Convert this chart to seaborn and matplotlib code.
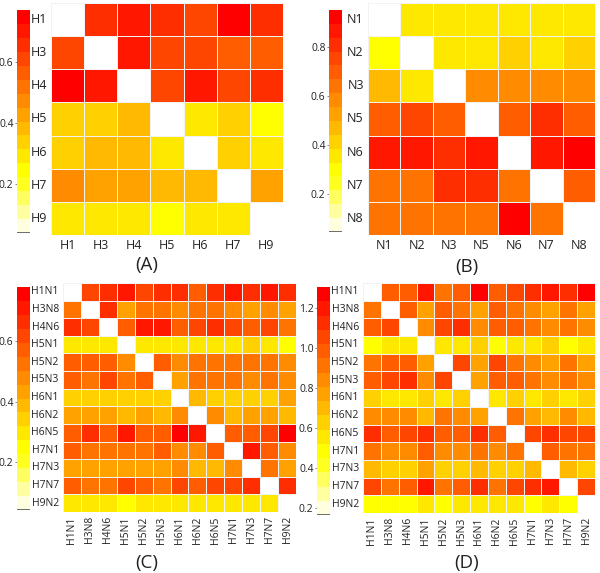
import numpy as np, pandas as pd
import matplotlib as mpl; mpl.use("Agg")
import matplotlib.pyplot as plt
from matplotlib.colors import ListedColormap
import seaborn as sns

nan = np.nan
H_LAB = ["H1", "H3", "H4", "H5", "H6", "H7", "H9"]
N_LAB = ["N1", "N2", "N3", "N5", "N6", "N7", "N8"]
HN_LAB = ["H1N1", "H3N8", "H4N6", "H5N1", "H5N2", "H5N3", "H6N1",
          "H6N2", "H6N5", "H7N1", "H7N3", "H7N7", "H9N2"]

# (A) HA subtypes
A_VALS = [
    [nan, 0.66, 0.70, 0.66, 0.61, 0.75, 0.66],
    [0.61, nan, 0.70, 0.62, 0.61, 0.56, 0.56],
    [0.75, 0.70, nan, 0.62, 0.70, 0.61, 0.66],
    [0.34, 0.34, 0.36, nan, 0.31, 0.34, 0.25],
    [0.34, 0.37, 0.37, 0.29, nan, 0.33, 0.30],
    [0.47, 0.43, 0.42, 0.38, 0.37, nan, 0.42],
    [0.29, 0.29, 0.29, 0.25, 0.29, 0.30, nan],
]
# (B) NA subtypes
B_VALS = [
    [nan, 0.36, 0.36, 0.37, 0.36, 0.36, 0.36],
    [0.30, nan, 0.36, 0.37, 0.40, 0.36, 0.41],
    [0.47, 0.38, nan, 0.59, 0.58, 0.59, 0.58],
    [0.70, 0.75, 0.70, nan, 0.69, 0.81, 0.68],
    [0.87, 0.86, 0.81, 0.87, nan, 0.86, 0.92],
    [0.66, 0.65, 0.80, 0.81, 0.65, nan, 0.69],
    [0.64, 0.65, 0.62, 0.65, 0.92, 0.65, nan],
]
# (C) HxNy subtypes
C_VALS = [
    [nan, 0.62, 0.66, 0.71, 0.62, 0.66, 0.66, 0.57, 0.66, 0.71, 0.66, 0.70, 0.66],
    [0.53, nan, 0.66, 0.43, 0.53, 0.52, 0.48, 0.53, 0.52, 0.48, 0.43, 0.47, 0.42],
    [0.66, 0.62, nan, 0.57, 0.71, 0.72, 0.57, 0.62, 0.65, 0.61, 0.57, 0.62, 0.53],
    [0.30, 0.30, 0.30, nan, 0.29, 0.30, 0.29, 0.30, 0.30, 0.30, 0.33, 0.30, 0.25],
    [0.57, 0.58, 0.57, 0.48, nan, 0.58, 0.48, 0.53, 0.53, 0.53, 0.51, 0.53, 0.48],
    [0.57, 0.53, 0.62, 0.51, 0.58, nan, 0.43, 0.53, 0.53, 0.52, 0.48, 0.53, 0.48],
    [0.34, 0.34, 0.34, 0.33, 0.34, 0.35, nan, 0.38, 0.35, 0.34, 0.35, 0.34, 0.43],
    [0.43, 0.43, 0.42, 0.39, 0.43, 0.40, 0.48, nan, 0.48, 0.40, 0.43, 0.42, 0.38],
    [0.57, 0.66, 0.57, 0.71, 0.57, 0.57, 0.76, 0.72, nan, 0.58, 0.57, 0.62, 0.75],
    [0.58, 0.52, 0.52, 0.53, 0.53, 0.56, 0.48, 0.48, 0.57, nan, 0.71, 0.58, 0.48],
    [0.44, 0.42, 0.43, 0.42, 0.43, 0.44, 0.48, 0.39, 0.40, 0.48, nan, 0.53, 0.43],
    [0.58, 0.53, 0.53, 0.62, 0.57, 0.53, 0.62, 0.58, 0.62, 0.62, 0.66, nan, 0.67],
    [0.29, 0.30, 0.30, 0.25, 0.30, 0.29, 0.30, 0.29, 0.30, 0.29, 0.30, 0.29, nan],
]
# (D) HxNy subtypes, second measure
D_VALS = [
    [nan, 0.98, 0.99, 1.20, 0.91, 0.98, 1.27, 0.98, 1.06, 1.13, 1.20, 1.13, 1.28],
    [0.91, nan, 0.98, 0.77, 0.98, 0.92, 0.77, 0.99, 0.91, 0.84, 0.77, 0.90, 0.76],
    [0.98, 1.05, nan, 0.84, 1.06, 1.13, 0.84, 0.98, 0.98, 0.91, 0.84, 0.91, 0.84],
    [0.49, 0.55, 0.55, nan, 0.55, 0.56, 0.63, 0.49, 0.55, 0.55, 0.63, 0.49, 0.56],
    [0.91, 0.98, 0.99, 0.77, nan, 1.06, 0.77, 1.05, 0.91, 0.84, 0.77, 0.90, 0.77],
    [0.98, 1.05, 1.13, 0.84, 1.06, nan, 0.78, 0.98, 0.98, 0.91, 0.84, 0.91, 0.84],
    [0.62, 0.58, 0.58, 0.62, 0.58, 0.62, nan, 0.57, 0.62, 0.58, 0.62, 0.58, 0.64],
    [0.84, 0.85, 0.84, 0.70, 0.91, 0.84, 0.77, nan, 0.91, 0.77, 0.70, 0.84, 0.71],
    [1.13, 0.98, 1.06, 1.13, 0.98, 0.99, 1.13, 0.98, nan, 1.06, 1.12, 1.06, 1.05],
    [0.91, 0.84, 0.84, 0.98, 0.84, 0.85, 0.91, 0.84, 0.91, nan, 0.98, 0.92, 0.91],
    [0.70, 0.63, 0.63, 0.77, 0.63, 0.64, 0.70, 0.63, 0.64, 0.71, nan, 0.70, 0.65],
    [1.06, 0.91, 0.98, 1.20, 0.91, 0.98, 1.13, 0.91, 1.06, 1.13, 1.20, nan, 1.06],
    [0.49, 0.50, 0.50, 0.56, 0.49, 0.55, 0.56, 0.55, 0.55, 0.50, 0.56, 0.49, nan],
]

# R heat.colors(16), reversed (low = pale, high = red)
HEAT = ["#FFFFDF", "#FFFF9F", "#FFFF60", "#FFFF20", "#FFFF00", "#FFE800",
        "#FFD100", "#FFB900", "#FFA200", "#FF8B00", "#FF7400", "#FF5D00",
        "#FF4600", "#FF2E00", "#FF1700", "#FF0000"]
CMAP = ListedColormap(HEAT)

sns.set_theme(style="white")
plt.rcParams["font.family"] = ["Open Sans", "DejaVu Sans"]

W, H = 600, 573
fig = plt.figure(figsize=(W / 100, H / 100), dpi=100)

def box(x0, y0, x1, y1):
    # pixel box -> figure fraction rect
    return [x0 / W, 1 - y1 / H, (x1 - x0) / W, (y1 - y0) / H]

PANELS = [
    # values, labels, vmin, vmax, ticks, heat box, cbar box, tag, tag pos, fs, rot
    (A_VALS, H_LAB, 0.04, 0.77, [0.2, 0.4, 0.6], (51, 3, 283, 235), (17, 10, 30, 233), "(A)", (147, 265), 9, 0),
    (B_VALS, N_LAB, 0.045, 0.95, [0.2, 0.4, 0.6, 0.8], (368, 3, 595, 235), (329, 10, 342, 232), "(B)", (467, 267), 9, 0),
    (C_VALS, HN_LAB, 0.04, 0.78, [0.2, 0.4, 0.6], (63, 283, 296, 512), (17, 287, 30, 510), "(C)", (147, 563), 7.5, 90),
    (D_VALS, HN_LAB, 0.165, 1.305, [0.2, 0.4, 0.6, 0.8, 1.0, 1.2], (363, 283, 595, 513), (317, 287, 330, 515), "(D)", (467, 563), 7.5, 90),
]

for vals, labs, vmin, vmax, ticks, hb, cb, tag, tp, fs, rot in PANELS:
    df = pd.DataFrame(vals, index=labs, columns=labs)
    ax = fig.add_axes(box(*hb))
    cax = fig.add_axes(box(*cb))
    sns.heatmap(df, ax=ax, cbar_ax=cax, cmap=CMAP, vmin=vmin, vmax=vmax,
                linewidths=0.5, linecolor="#f2f2f2")
    ax.tick_params(length=0, pad=3)
    ax.set_xticklabels(labs, rotation=rot, fontsize=fs, color="#222222")
    ax.set_yticklabels(labs, rotation=0, fontsize=fs, color="#222222")
    ax.set_xlabel(""); ax.set_ylabel("")
    cax.yaxis.set_ticks_position("left")
    cax.yaxis.set_label_position("left")
    cax.set_yticks(ticks)
    cax.set_yticklabels([f"{t:.1f}" for t in ticks])
    cax.tick_params(axis="y", length=1.5, width=0.5, color="#555555",
                    labelsize=7.5, pad=1, labelcolor="#222222")
    for s in cax.spines.values(): s.set_visible(False)
    cax.axhline(vmin, color="#555555", lw=1.2)
    fig.text(tp[0] / W, 1 - tp[1] / H, tag, ha="center", va="center",
             fontsize=13.5, color="#222222")

fig.savefig("out.png", dpi=100)
